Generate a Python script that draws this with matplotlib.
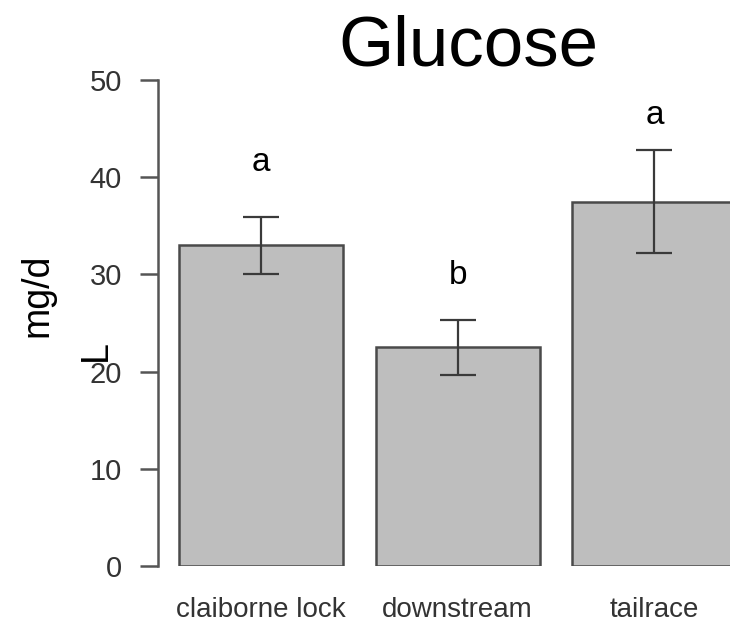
''' bar chart of glucose by site, R barplot look '''
import matplotlib
matplotlib.use('Agg')
import matplotlib.pyplot as plt

sites = ['claiborne lock', 'downstream', 'tailrace']
means = [33.0, 22.5, 37.4]
err_low = [30.0, 19.6, 32.2]
err_high = [35.9, 25.3, 42.8]
letters = ['a', 'b', 'a']
letter_y = [41.5, 29.9, 46.3]
yticks = [0, 10, 20, 30, 40, 50]

plt.rcParams['font.family'] = ['Liberation Sans', 'DejaVu Sans']

fig = plt.figure(figsize=(7.3, 6.36), dpi=100)
ax = fig.add_axes([158 / 730, 70 / 636, 572 / 730, 486 / 636])

# R barplot: width 1, space 0.2 -> centres at 0.7, 1.9, 3.1
pos = [0.7 + 1.2 * i for i in range(len(sites))]
ax.bar(pos, means, width=1.0, color='#bebebe', edgecolor='#4a4a4a',
       linewidth=1.8, zorder=2)

lo = [m - l for m, l in zip(means, err_low)]
hi = [h - m for m, h in zip(means, err_high)]
ax.errorbar(pos, means, yerr=[lo, hi], fmt='none', ecolor='#3a3a3a',
            elinewidth=1.6, capsize=13, capthick=1.6, zorder=3)

for x, y, t in zip(pos, letter_y, letters):
    ax.text(x, y, t, ha='center', va='center', fontsize=24, color='black',
            clip_on=False)

ax.set_xlim(0.073, 3.561)
ax.set_ylim(0, 50)
for s in ['top', 'right', 'bottom']:
    ax.spines[s].set_visible(False)
ax.spines['left'].set_bounds(0, 50)
ax.spines['left'].set_color('#555555')
ax.spines['left'].set_linewidth(1.8)

ax.set_yticks(yticks)
ax.tick_params(axis='y', length=13, width=1.8, color='#555555',
               labelsize=21, labelcolor='#333333', pad=13)
ax.set_xticks(pos)
ax.set_xticklabels(sites)
ax.tick_params(axis='x', length=0, labelsize=20, labelcolor='#333333',
               pad=22)

fig.text(468 / 730, 1 - 65 / 636, 'Glucose', ha='center', va='baseline',
         fontsize=51, color='black')
# the unit label is split in the original: "mg/d" then a stray "L"
fig.text(37 / 730, 1 - 295 / 636, 'mg/d', rotation=90, ha='center',
         va='center', fontsize=27, color='black')
fig.text(96 / 730, 1 - 351 / 636, 'L', rotation=90, ha='center',
         va='center', fontsize=27, color='black')

fig.savefig('out.png', dpi=100)
